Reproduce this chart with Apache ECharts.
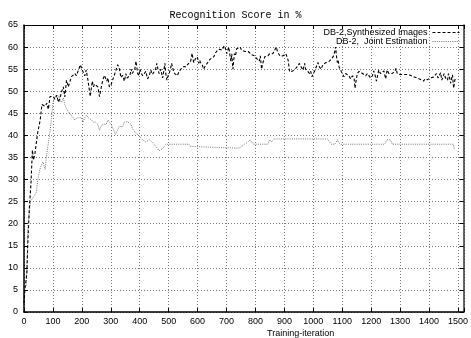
<!DOCTYPE html>
<html>
<head>
<meta charset="utf-8">
<script src="https://cdn.jsdelivr.net/npm/echarts@6/dist/echarts.min.js"></script>
<style>html,body{margin:0;padding:0;background:#fff}#c{width:471px;height:338px}</style>
</head>
<body>
<div id="c"></div>
<script>
var titleText = 'Recognition Score in %';
var xLabelText = 'Training-iteration';
var seriesNames = ['DB-2,Synthesized Images', 'DB-2,  Joint Estimation'];

var synthIter = [0,3,10,14,19,24,29,33,38,47,56,62,68,73,79,84,90,101,107,113,119,124,130,136,141,147,153,158,164,170,176,181,187,195,200,204,210,215,221,229,236,240,244,250,255,261,266,272,278,286,290,295,301,306,312,318,324,330,335,341,347,352,356,361,366,370,374,378,383,387,393,397,401,406,410,415,421,427,433,438,444,450,455,459,463,467,473,479,483,487,490,494,498,502,506,510,517,521,525,530,536,542,548,553,560,565,570,576,581,585,587,592,599,604,607,610,616,621,627,633,638,644,650,656,661,665,669,676,684,688,692,697,701,705,708,712,715,718,722,725,727,731,735,740,747,752,758,764,770,775,781,786,792,798,803,809,813,817,821,826,832,838,843,849,855,860,866,872,876,880,885,889,895,900,905,909,913,918,923,929,935,941,947,952,958,964,967,970,973,975,981,987,991,995,1000,1004,1010,1016,1021,1027,1033,1039,1044,1050,1055,1061,1065,1070,1074,1077,1080,1083,1086,1089,1093,1097,1101,1106,1112,1118,1123,1129,1135,1141,1144,1148,1152,1158,1164,1170,1175,1181,1187,1192,1198,1204,1209,1214,1218,1222,1226,1232,1238,1244,1250,1255,1261,1267,1272,1278,1282,1286,1290,1295,1300,1306,1312,1318,1324,1329,1335,1340,1346,1352,1358,1363,1369,1375,1381,1386,1390,1394,1398,1404,1409,1415,1421,1426,1431,1435,1440,1444,1447,1452,1457,1461,1464,1467,1471,1475,1478,1481,1485,1489,1492];
var synthVal = [2,5,9,17,24,29,36.7,34.4,36,40.5,43.5,47,47,46.6,47.3,45.9,48.8,48.8,48.2,49.1,47.5,48.4,49.9,51,48.7,52.5,51,52,53.3,53.6,54,53.5,53.8,56,55,54.4,53.5,54.8,52.5,48.8,52.3,51,51.6,51.5,51,48.8,50.5,52.5,53.6,52.3,53,51,51.5,52.5,53.6,54.8,56,55,53.1,53.6,52.3,54,53,53.1,53.5,55,54,54.3,55,56.8,54,53.5,55,54,53.5,53.3,54.5,52.8,53.5,54.8,53.8,54,55,56.3,55,54,55,53,54.5,56.3,54,52.5,53.5,54,55,56.3,54.5,54,53.6,53.5,54.5,55,55.3,55.6,55.5,56,56.3,56.8,58.6,57,56.5,57.3,57.8,56.3,57,56.5,56,55,55.8,56.3,56.8,57.3,57,57.8,58.6,58.8,59.3,59.5,59.3,59.6,60.3,59.5,58.5,59.5,60,58,56.8,58.5,55,57,58.5,58,59.6,59.5,60,59.3,59.3,59,58.6,59,58.8,58.3,58.5,58,57.5,57.8,56.8,58,55,56.5,57.8,57.5,58,58.5,58.2,58.5,58.8,60,59,58.5,58,57.8,58,58,58.5,58.8,57,54.4,54.8,54.6,55,55.3,55,56.3,55.5,54.8,55.5,56.3,55,54.8,54.5,54,54.5,53.3,54,54.5,55.5,56.5,55.5,55,56,55.8,56.5,56.3,56.8,57,57.5,58,59,60,58,56.5,57,55.5,55,54.4,54,53.3,54,54.2,53.5,52.8,53.5,53,50.7,52.5,54,54.5,54.8,54,54,53.5,54,53.8,53,53.5,54.6,53.5,52.3,53.5,54.8,54,53.7,54.6,52.8,54.8,54,53.7,54,54,54.5,55.2,54,53.7,53.8,54,53.8,53.7,53.8,53.7,53.6,53.5,53.3,53.2,53,52.8,52.7,52.5,52.3,52.8,53,52.6,52.7,53,53,53.2,53,54,53,53.3,54.2,52.5,52.3,54,53,53.3,52.5,54,53,51.8,53,53.7,50.7,52.5,53];

var jointIter = [8,10,12,14,22,32,42,48,53,58,62,66,70,73,79,83,88,92,96,100,104,110,115,120,125,130,136,141,147,152,158,164,170,175,181,186,192,198,204,210,216,222,227,233,240,247,255,261,266,272,278,284,290,295,301,308,316,322,329,335,341,347,352,358,364,370,375,381,387,392,398,404,410,415,421,427,433,438,444,450,456,462,467,473,479,485,490,570,575,581,741,745,750,756,762,768,775,781,787,793,843,849,855,860,864,1049,1055,1062,1074,1080,1083,1088,1092,1246,1250,1254,1266,1270,1273,1484,1487];
var jointVal = [6,10,15,20,25,26,27,30,31.8,33,33.2,34,33.7,32.3,36,36,40,42,44.6,47.3,48.5,49,48.5,49,48,47.5,48.5,47,46,45.5,45,44.6,44,43.5,43.3,44,44.2,44,43,44,44.6,44,43.8,43.5,43,43,42.5,41.2,42,42.5,42.9,42.5,43.5,43.5,42.5,41.5,40.2,41,42,41.9,42,43,43.1,43.1,43,42.5,41.5,41.2,40.5,40.5,39.9,39.5,39,38.6,38.5,38.8,39,38.9,38.5,38,37.5,37,36.5,36.3,37,37.5,38,38,37.5,37.1,37.1,37.4,37.4,37.5,38,37.8,38.5,39,38.5,38,38,39,38.5,38.7,39.2,39.2,38.6,38,38,38.5,39,38.5,38,38,38.5,39,39,38.5,38,38,37];

var xMin = 0, xMax = 1520, xStep = 100;
var yMin = 0, yMax = 65, yStep = 5;

function pairs(xs, ys) { return xs.map(function (x, i) { return [x, ys[i]]; }); }

var chart = echarts.init(document.getElementById('c'), null, {renderer: 'canvas'});
var sans = 'Liberation Sans';
var gridLine = {show: true, lineStyle: {color: '#7a7a7a', type: [1, 2], width: 1}};
var legendCommon = {orient: 'vertical', align: 'right', itemWidth: 27, itemHeight: 8, itemGap: 0, padding: 0,
  itemStyle: {color: 'rgba(0,0,0,0)', borderWidth: 0, opacity: 0},
  lineStyle: {width: 1},
  textStyle: {fontFamily: sans, fontSize: 9, color: '#000'}};
chart.setOption({
  animation: false,
  backgroundColor: '#fff',
  title: [
    {text: titleText, left: 'center', top: 5, textStyle: {fontFamily: 'Liberation Mono', fontSize: 10, fontWeight: 'normal', color: '#000'}},
    {text: xLabelText, left: 262, top: 324, textStyle: {fontFamily: sans, fontSize: 9, fontWeight: 'normal', color: '#000', lineHeight: 10}}
  ],
  legend: [
    Object.assign({data: [seriesNames[0]], right: 11, top: 28}, legendCommon),
    Object.assign({data: [seriesNames[1]], right: 11, top: 37}, legendCommon)
  ],
  grid: {left: 24, right: 3, top: 25, bottom: 26, containLabel: false},
  xAxis: [
    {type: 'value', min: xMin, max: xMax, interval: xStep, position: 'bottom',
     axisLine: {show: true, onZero: false, lineStyle: {color: '#000', width: 1.5}},
     axisTick: {show: true, inside: true, length: 4, lineStyle: {color: '#000'}},
     axisLabel: {fontFamily: sans, fontSize: 9, color: '#000', margin: 5,
       formatter: function (v) { return v % xStep === 0 ? String(v) : ''; }},
     splitLine: gridLine},
    {type: 'value', min: xMin, max: xMax, interval: xStep, position: 'top',
     axisLine: {show: true, onZero: false, lineStyle: {color: '#000', width: 1}},
     axisTick: {show: true, inside: true, length: 4, lineStyle: {color: '#000'}},
     axisLabel: {show: false}, splitLine: {show: false}}
  ],
  yAxis: [
    {type: 'value', min: yMin, max: yMax, interval: yStep, position: 'left',
     axisLine: {show: true, onZero: false, lineStyle: {color: '#000', width: 1.5}},
     axisTick: {show: true, inside: true, length: 4, lineStyle: {color: '#000'}},
     axisLabel: {fontFamily: sans, fontSize: 9, color: '#000', margin: 6},
     splitLine: gridLine},
    {type: 'value', min: yMin, max: yMax, interval: yStep, position: 'right',
     axisLine: {show: true, onZero: false, lineStyle: {color: '#333', width: 1.5}},
     axisTick: {show: true, inside: true, length: 4, lineStyle: {color: '#000'}},
     axisLabel: {show: false}, splitLine: {show: false}}
  ],
  series: [
    {name: seriesNames[0], type: 'line', xAxisIndex: 0, yAxisIndex: 0, data: pairs(synthIter, synthVal),
     symbol: 'none', showSymbol: false, lineStyle: {color: '#000', width: 1.1, type: [3, 2]}, itemStyle: {color: '#000'}, z: 3},
    {name: seriesNames[1], type: 'line', xAxisIndex: 0, yAxisIndex: 0, data: pairs(jointIter, jointVal),
     symbol: 'none', showSymbol: false, lineStyle: {color: '#777', width: 1, type: [1, 1.2]}, itemStyle: {color: '#777'}, z: 2}
  ]
});
</script>
</body>
</html>
